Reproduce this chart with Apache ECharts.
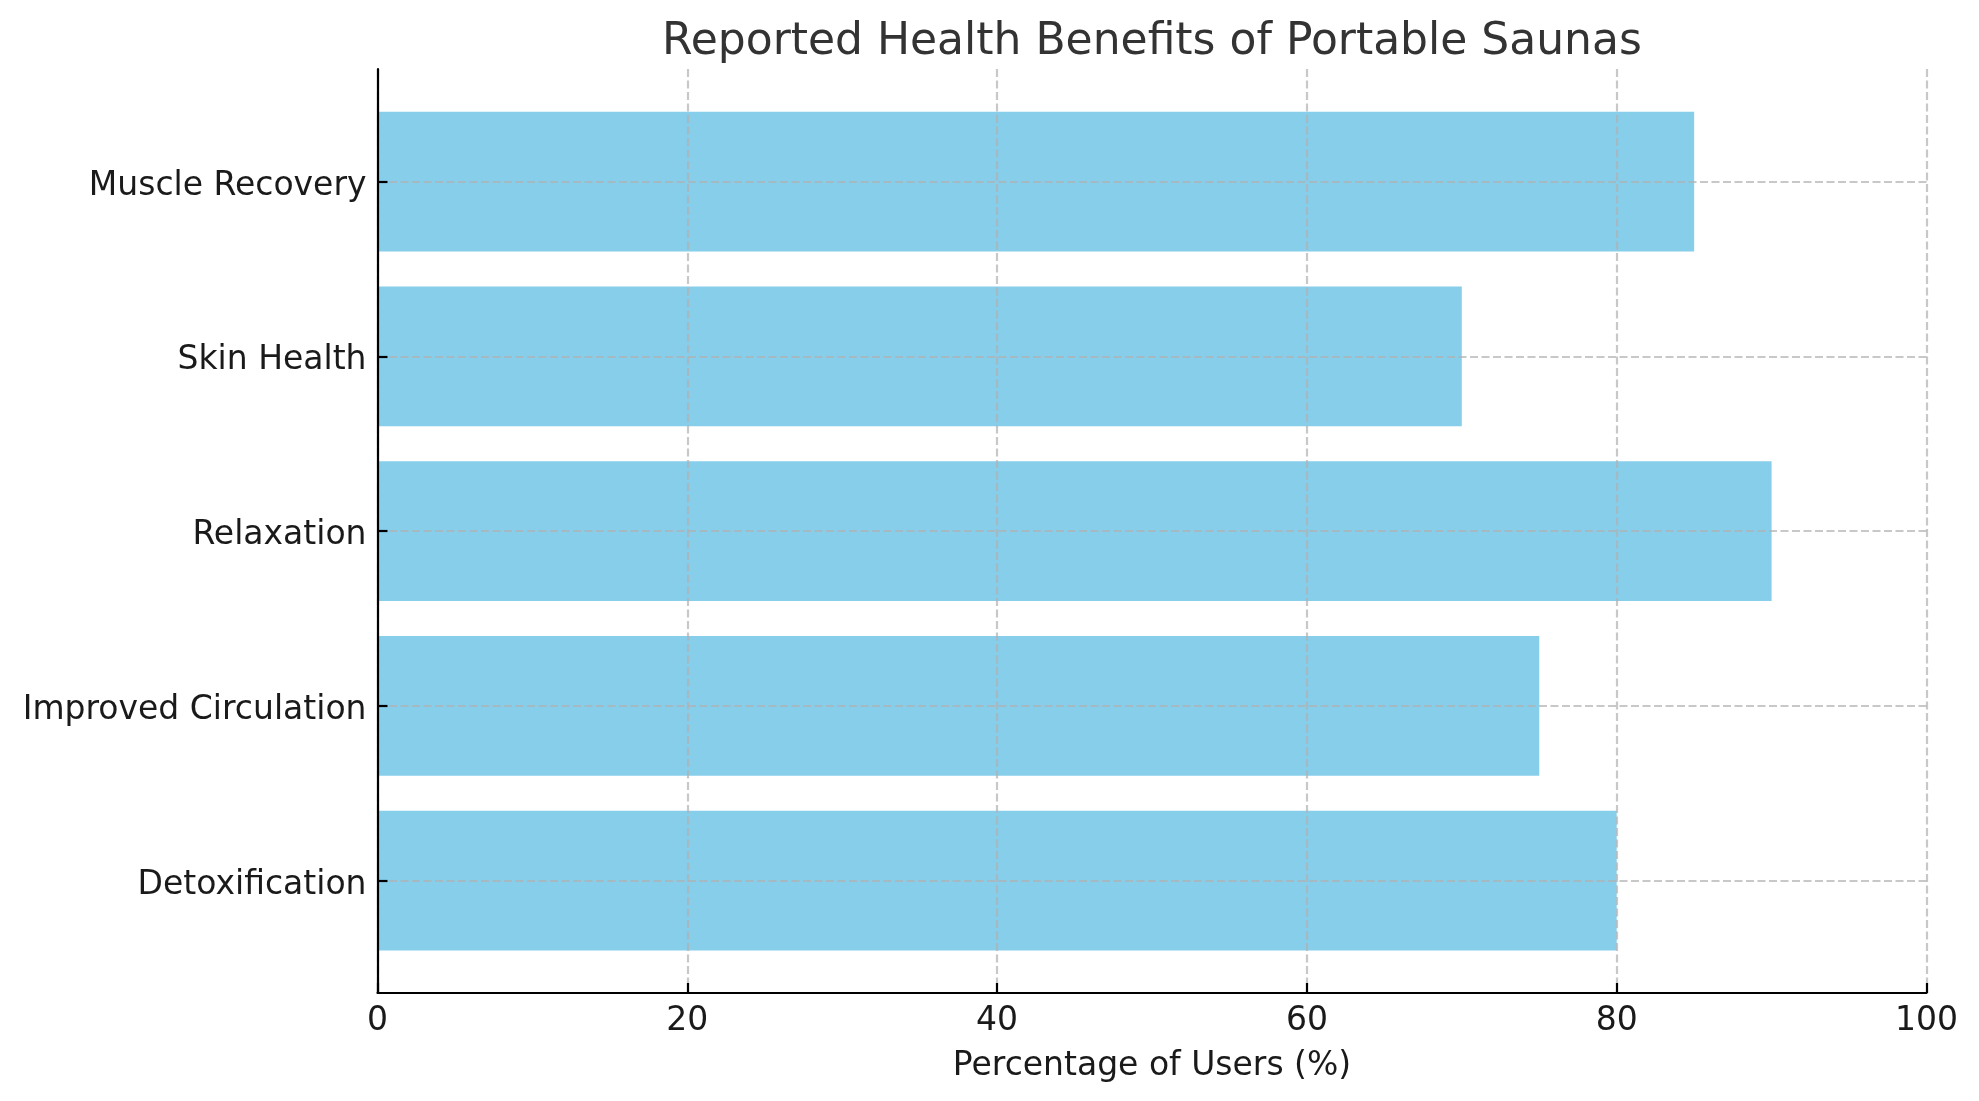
<!DOCTYPE html>
<html>
<head>
<meta charset="utf-8">
<script src="https://cdn.jsdelivr.net/npm/echarts@6/dist/echarts.min.js"></script>
<style>
html,body{margin:0;padding:0;background:#fff;}
#chart{width:1979px;height:1101px;}
</style>
</head>
<body>
<div id="chart"></div>
<script>
// Data
const categories = ['Detoxification', 'Improved Circulation', 'Relaxation', 'Skin Health', 'Muscle Recovery'];
const percentages = [80, 75, 90, 70, 85];
const xTicks = [0, 20, 40, 60, 80, 100];
const titleText = 'Reported Health Benefits of Portable Saunas';
const xAxisTitle = 'Percentage of Users (%)';

const FONT = 'DejaVu Sans';
const gridColor = 'rgba(176,176,176,0.7)';
const dash = [8, 3.5];

const chart = echarts.init(document.getElementById('chart'), null, {renderer: 'canvas'});
chart.setOption({
  backgroundColor: '#ffffff',
  animation: false,
  graphic: [{
    type: 'text',
    x: 1152, y: 43,
    style: {text: titleText, font: '44px "' + FONT + '"', fill: '#333333', textAlign: 'center', textVerticalAlign: 'middle'}
  }],
  grid: [
    {left: 377.5, right: 52.5, top: 69, bottom: 108, outerBoundsMode: 'none', containLabel: false},
    {left: 377.5, right: 52.5, top: 94.3, bottom: 133, outerBoundsMode: 'none', containLabel: false}
  ],
  xAxis: [
    {
      gridIndex: 0, type: 'value', min: xTicks[0], max: xTicks[xTicks.length - 1], interval: 20,
      z: 5,
      axisLine: {show: true, onZero: false, lineStyle: {color: '#000', width: 2.2}},
      axisTick: {show: true, inside: true, length: 10, lineStyle: {color: '#000', width: 2.2}},
      axisLabel: {show: true, margin: 12, fontFamily: FONT, fontSize: 33, color: '#1a1a1a'},
      splitLine: {show: true, lineStyle: {color: gridColor, width: 2.2, type: dash}},
      name: xAxisTitle, nameLocation: 'middle', nameGap: 57,
      nameTextStyle: {fontFamily: FONT, fontSize: 33, color: '#1a1a1a'}
    },
    {
      gridIndex: 1, type: 'value', min: xTicks[0], max: xTicks[xTicks.length - 1], show: false,
      splitLine: {show: false}
    }
  ],
  yAxis: [
    {
      gridIndex: 0, type: 'value', min: 0, max: 1, z: 5,
      axisLine: {show: true, onZero: false, lineStyle: {color: '#000', width: 2.2}},
      axisTick: {show: false}, axisLabel: {show: false}, splitLine: {show: false}
    },
    {
      gridIndex: 1, type: 'category', data: categories, boundaryGap: true, z: 5,
      axisLine: {show: false},
      axisTick: {show: true, inside: true, alignWithLabel: true, length: 10, lineStyle: {color: '#000', width: 2.2}},
      axisLabel: {show: true, margin: 11, verticalAlign: 'top', lineHeight: 9, fontFamily: FONT, fontSize: 33, color: '#1a1a1a'},
      splitLine: {show: false}
    }
  ],
  series: [{
    type: 'bar',
    xAxisIndex: 1, yAxisIndex: 1,
    data: percentages,
    barWidth: '80%',
    itemStyle: {color: '#87CEEB'},
    silent: true,
    markLine: {
      silent: true, symbol: 'none', z: 5,
      label: {show: false},
      lineStyle: {color: gridColor, width: 2.2, type: dash},
      data: categories.map(c => ({yAxis: c}))
    }
  }]
});
</script>
</body>
</html>
